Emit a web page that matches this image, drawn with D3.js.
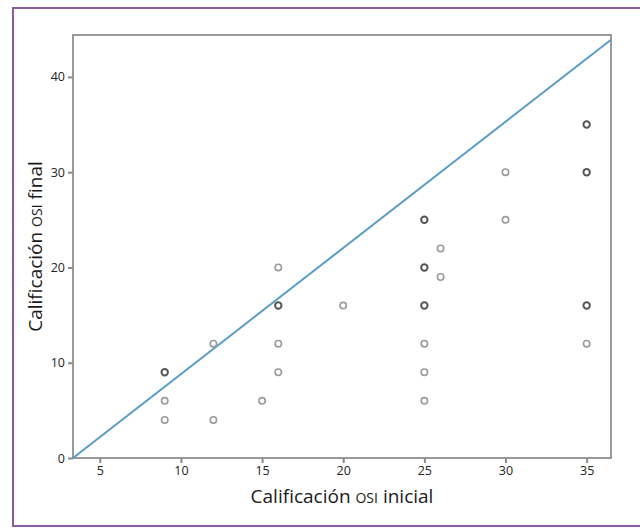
<!DOCTYPE html>
<html>
<head>
<meta charset="utf-8">
<script src="https://cdn.jsdelivr.net/npm/d3@7"></script>
<style>
	body { margin: 0; background: #fff; }
	svg { display: block; font-family: 'Open Sans', 'Noto Sans', sans-serif; }
</style>
</head>
<body>
<div id="chart_container"></div>
<script>
// Data (initial score, final score, count of overlapping cases)
const osiInicial = [9, 9, 9, 12, 12, 15, 16, 16, 16, 16, 20, 25, 25, 25, 25, 25, 25, 26, 26, 30, 30, 35, 35, 35, 35]
const osiFinal   = [9, 6, 4, 12, 4, 6, 16, 20, 12, 9, 16, 25, 20, 16, 12, 9, 6, 22, 19, 30, 25, 35, 30, 16, 12]
const casos      = [2, 1, 1, 1, 1, 1, 2, 1, 1, 1, 1, 2, 2, 2, 1, 1, 1, 1, 1, 1, 1, 2, 2, 2, 1]

// Reference line endpoints
const lineX = [3.35, 36.5]
const lineY = [0, 43.9]

const xTicks = [5, 10, 15, 20, 25, 30, 35]
const yTicks = [0, 10, 20, 30, 40]

// Chart dimensions
const chartWidth = 640
const chartHeight = 530
const plotLeft = 73
const plotRight = 611
const plotTop = 35
const plotBottom = 458

// Scales
let scaleX = d3.scaleLinear()
	.domain([3.35, 36.5])
	.range([plotLeft, plotRight])
let scaleY = d3.scaleLinear()
	.domain([0, 44.4])
	.range([plotBottom, plotTop])

let svg = d3.select('#chart_container')
	.append('svg')
	.attr('width', chartWidth)
	.attr('height', chartHeight)

// Purple outer frame (left, top, bottom)
svg.append('path')
	.attr('d', 'M641,8 H13 V526 H641')
	.attr('fill', 'none')
	.attr('stroke', '#8c5b9c')
	.attr('stroke-width', 2)

// Plot frame
svg.append('rect')
	.attr('x', plotLeft)
	.attr('y', plotTop)
	.attr('width', plotRight - plotLeft)
	.attr('height', plotBottom - plotTop)
	.attr('fill', '#fff')
	.attr('stroke', '#9a9a9a')
	.attr('stroke-width', 2)

// Axes
let xAxis = svg.append('g')
	.attr('transform', 'translate(0,' + plotBottom + ')')
	.call(d3.axisBottom(scaleX).tickValues(xTicks).tickSize(5).tickPadding(3))
let yAxis = svg.append('g')
	.attr('transform', 'translate(' + plotLeft + ',0)')
	.call(d3.axisLeft(scaleY).tickValues(yTicks).tickSize(5).tickPadding(3))

;[xAxis, yAxis].forEach((ax) => {
	ax.select('.domain').remove()
	ax.selectAll('line').attr('stroke', '#8a8a8a').attr('stroke-width', 2)
	ax.selectAll('text')
		.attr('fill', '#222')
		.style('font-size', '12.5px')
		.style('font-family', "'Open Sans', 'Noto Sans', sans-serif")
})

// Reference line
svg.append('line')
	.attr('x1', scaleX(lineX[0]))
	.attr('y1', scaleY(lineY[0]))
	.attr('x2', scaleX(lineX[1]))
	.attr('y2', scaleY(lineY[1]))
	.attr('stroke', '#5b9cc6')
	.attr('stroke-width', 2)

// Points
let points = osiInicial.map((x, i) => ({ x: x, y: osiFinal[i], n: casos[i] }))
svg.selectAll('circle.punto')
	.data(points)
	.enter()
	.append('circle')
	.attr('class', 'punto')
	.attr('cx', (d) => scaleX(d.x))
	.attr('cy', (d) => scaleY(d.y))
	.attr('r', 3.2)
	.attr('fill', 'none')
	.attr('stroke', (d) => d.n > 1 ? '#555' : '#9a9a9a')
	.attr('stroke-width', (d) => d.n > 1 ? 2 : 1.6)

// Axis titles with small-caps OSI
let xTitle = svg.append('text')
	.attr('x', 342)
	.attr('y', 503)
	.attr('text-anchor', 'middle')
	.attr('fill', '#1a1a1a')
	.style('font-size', '19px')
xTitle.append('tspan').text('Calificación ')
xTitle.append('tspan').style('font-size', '14px').text('OSI')
xTitle.append('tspan').text(' inicial')

let yTitle = svg.append('text')
	.attr('transform', 'translate(42,' + ((plotTop + plotBottom) / 2) + ') rotate(-90)')
	.attr('text-anchor', 'middle')
	.attr('fill', '#1a1a1a')
	.style('font-size', '19px')
yTitle.append('tspan').text('Calificación ')
yTitle.append('tspan').style('font-size', '14px').text('OSI')
yTitle.append('tspan').text(' final')
</script>
</body>
</html>
